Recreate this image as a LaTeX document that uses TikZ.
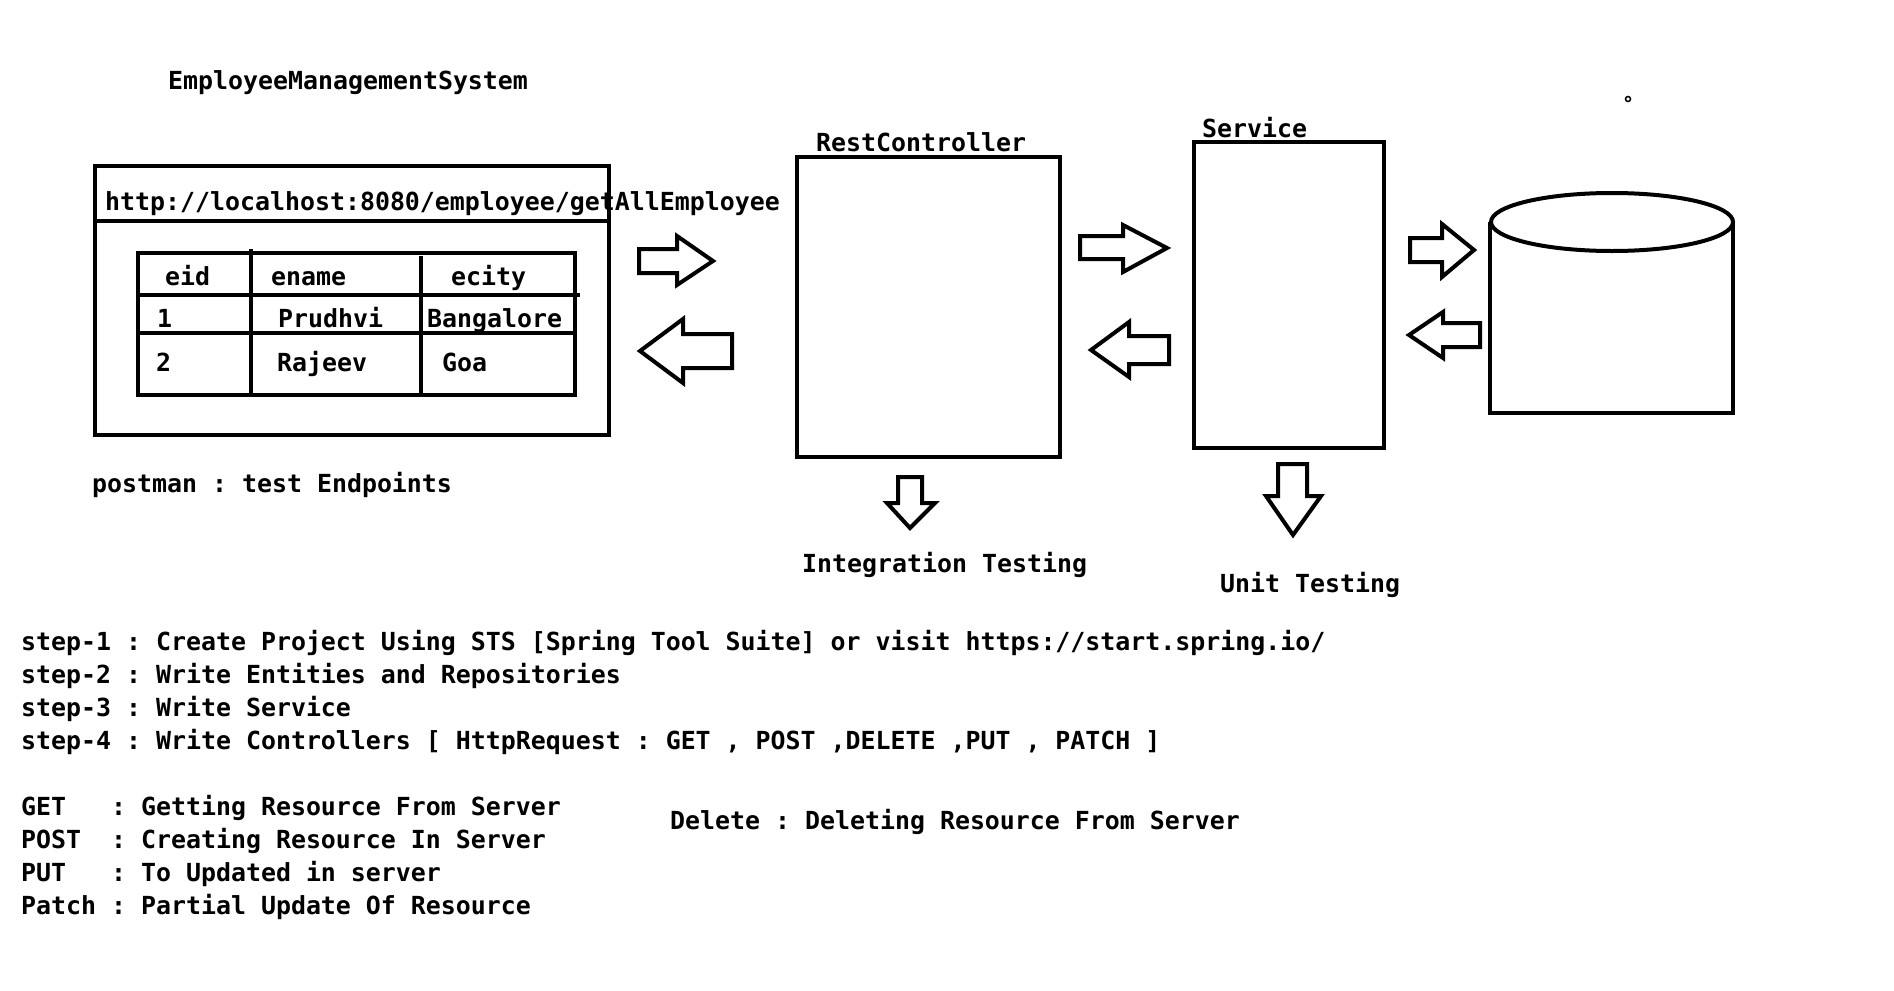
\documentclass[tikz,border=0pt]{standalone}
\usepackage{fontspec}
\setmonofont{DejaVu Sans Mono}
\begin{document}
\frenchspacing
\begin{tikzpicture}[x=1pt,y=-1pt,
  txt/.style={anchor=base west, inner sep=0pt, font=\ttfamily\bfseries\fontsize{24.9}{30}\selectfont},
  boxline/.style={draw, line width=4.5pt, inner sep=0pt, outer sep=0pt},
  tline/.style={line width=4.5pt},
  blk/.style={draw, line width=4pt, fill=white, line join=miter},
  cyl/.style={draw, line width=4pt},
]
\useasboundingbox[fill=white] (0,0) rectangle (1894,990);

% title
\node[txt] (title) at (168,89) {EmployeeManagementSystem};

% postman box
\node[boxline, minimum width=514pt, minimum height=269pt, anchor=north west] (pm) at (95,166) {};
\coordinate (u1) at (95,221);
\coordinate (u2) at (609,221);
\draw[tline] (u1) -- (u2);
\node[txt] (url) at (105,210) {http://localhost:8080/employee/getAllEmployee};

% table
\node[boxline, minimum width=437pt, minimum height=142pt, anchor=north west] (tbl) at (138,253) {};
\coordinate (r1a) at (138,295); \coordinate (r1b) at (580,295);
\coordinate (r2a) at (138,333); \coordinate (r2b) at (575,333);
\coordinate (c1a) at (251,249); \coordinate (c1b) at (251,395);
\coordinate (c2a) at (421,256); \coordinate (c2b) at (421,395);
\node[txt] (h1) at (165,285) {eid};
\node[txt] (h2) at (271,285) {ename};
\node[txt] (h3) at (451,285) {ecity};
\node[txt] (a1) at (157,327) {1};
\node[txt] (a2) at (278,327) {Prudhvi};
\node[txt] (a3) at (427,327) {Bangalore};
\node[txt] (b1) at (156,371) {2};
\node[txt] (b2) at (277,371) {Rajeev};
\node[txt] (b3) at (442,371) {Goa};
\draw[tline] (r1a) -- (r1b);
\draw[tline] (r2a) -- (r2b);
\draw[tline] (c1a) -- (c1b);
\draw[tline] (c2a) -- (c2b);

\node[txt] (pmlabel) at (92,492) {postman : test Endpoints};

% RestController
\node[boxline, minimum width=263pt, minimum height=300pt, anchor=north west] (rc) at (797,157) {};
\node[txt] (rclabel) at (816,151) {RestController};

% Service
\node[boxline, minimum width=190pt, minimum height=306pt, anchor=north west] (sv) at (1194,142) {};
\node[txt] (svlabel) at (1202,137) {Service};

% database cylinder
\coordinate (db) at (1612,222);
\draw[cyl] (1490,222) -- (1490,413) -- (1733,413) -- (1733,222);
\draw[cyl] (db) ellipse [x radius=121pt, y radius=29pt];

% small dot
\draw[line width=1.5pt] (1628,99) circle [radius=2.5pt];

% block arrows postman <-> RestController
\draw[blk] (639,249) -- (677,249) -- (677,236) -- (713,261) -- (677,285) -- (677,273) -- (639,273) -- cycle;
\draw[blk] (732,334) -- (683,334) -- (683,319) -- (640,351) -- (683,383) -- (683,368) -- (732,368) -- cycle;

% RestController <-> Service
\draw[blk] (1080,236) -- (1123,236) -- (1123,225) -- (1167,248) -- (1123,272) -- (1123,259) -- (1080,259) -- cycle;
\draw[blk] (1169,336) -- (1129,336) -- (1129,322) -- (1091,350) -- (1129,377) -- (1129,364) -- (1169,364) -- cycle;

% Service <-> DB
\draw[blk] (1410,238) -- (1442,238) -- (1442,224) -- (1474,250) -- (1442,277) -- (1442,262) -- (1410,262) -- cycle;
\draw[blk] (1480,323) -- (1443,323) -- (1443,312) -- (1409,335) -- (1443,358) -- (1443,347) -- (1480,347) -- cycle;

% down arrows
\draw[blk] (898,477) -- (922,477) -- (922,503) -- (935,503) -- (910,528) -- (887,503) -- (898,503) -- cycle;
\draw[blk] (1278,464) -- (1307,464) -- (1307,496) -- (1321,496) -- (1293,535) -- (1266,496) -- (1278,496) -- cycle;

\node[txt] (itest) at (802,572) {Integration Testing};
\node[txt] (utest) at (1220,592) {Unit Testing};

% steps
\node[txt] (s1) at (21,650) {step-1 : Create Project Using STS [Spring Tool Suite] or visit https://start.spring.io/};
\node[txt] (s2) at (21,683) {step-2 : Write Entities and Repositories};
\node[txt] (s3) at (21,716) {step-3 : Write Service};
\node[txt] (s4) at (21,749) {step-4 : Write Controllers [ HttpRequest : GET , POST ,DELETE ,PUT , PATCH ]};

% http methods
\node[txt] (m1) at (21,815) {GET~~~: Getting Resource From Server};
\node[txt] (m2) at (21,848) {POST~~: Creating Resource In Server};
\node[txt] (m3) at (21,881) {PUT~~~: To Updated in server};
\node[txt] (m4) at (21,914) {Patch : Partial Update Of Resource};
\node[txt] (m5) at (670,829) {Delete : Deleting Resource From Server};
\end{tikzpicture}
\end{document}
